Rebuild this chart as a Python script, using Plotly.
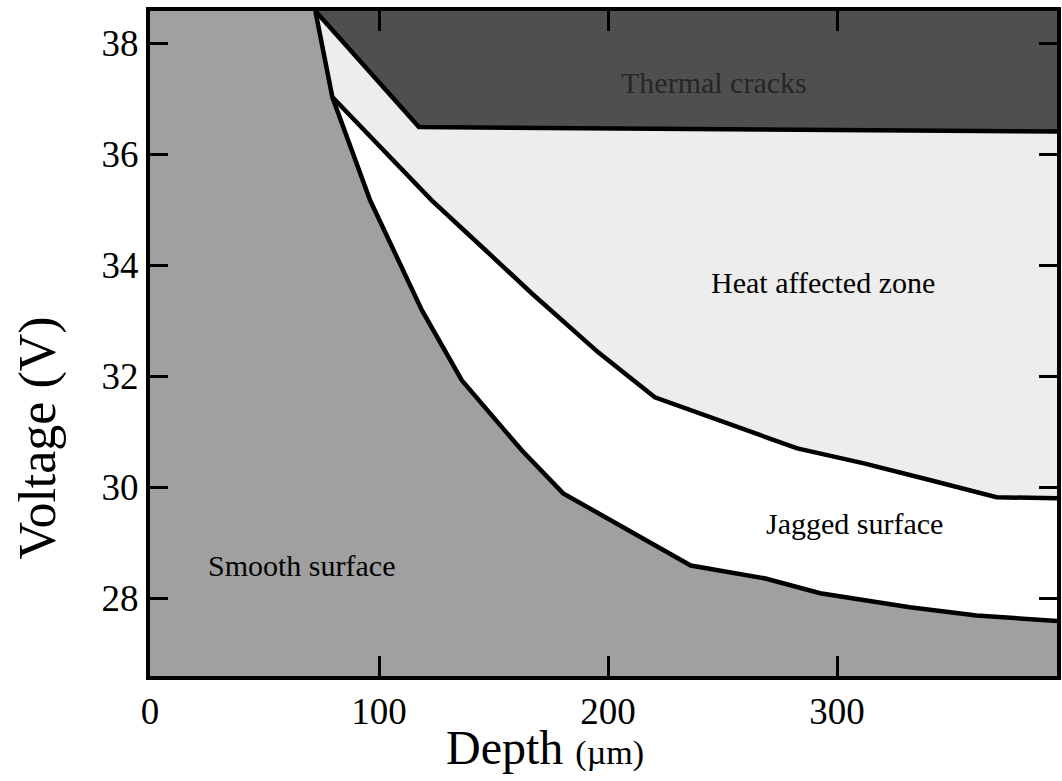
import plotly.graph_objects as go

# ---- data ----
X_RANGE = [0, 396]
Y_RANGE = [26.6, 38.58]

# boundary: smooth surface / jagged surface
smooth_x = [72.2, 79.6, 96.1, 118.7, 136.1, 162.2, 180.4, 236.1, 268.3, 292.6, 331.7, 360.9, 396]
smooth_y = [38.58, 37.03, 35.17, 33.19, 31.93, 30.67, 29.89, 28.59, 28.36, 28.09, 27.84, 27.69, 27.59]

# boundary: jagged surface / heat affected zone
haz_x = [79.6, 123.0, 146.5, 166.5, 195.7, 220.4, 282.6, 311.7, 340.4, 369.6, 396]
haz_y = [37.03, 35.17, 34.27, 33.50, 32.43, 31.62, 30.70, 30.43, 30.13, 29.82, 29.80]

# boundary: heat affected zone / thermal cracks
crack_x = [72.2, 117.4, 396]
crack_y = [38.58, 36.49, 36.41]

x_ticks = [0, 100, 200, 300]
y_ticks = [28, 30, 32, 34, 36, 38]

zone_labels = ["Thermal cracks", "Heat affected zone", "Jagged surface", "Smooth surface"]
zone_label_x = [246.1, 293.9, 307.4, 66.1]
zone_label_y = [37.30, 33.68, 29.35, 28.59]

# ---- styles ----
SMOOTH_COLOR = "#a0a0a0"
JAGGED_COLOR = "#ffffff"
HAZ_COLOR = "#ededed"
CRACK_COLOR = "#4f4f4f"
FONT = "Liberation Serif, Times New Roman, serif"

fig = go.Figure()

# jagged surface region (everything above the smooth boundary)
fig.add_trace(go.Scatter(
    x=smooth_x + [X_RANGE[1]], y=smooth_y + [Y_RANGE[1]],
    fill="toself", fillcolor=JAGGED_COLOR, mode="none", hoverinfo="skip", showlegend=False))

# heat affected zone (above the jagged boundary)
fig.add_trace(go.Scatter(
    x=[smooth_x[0]] + haz_x + [X_RANGE[1]], y=[smooth_y[0]] + haz_y + [Y_RANGE[1]],
    fill="toself", fillcolor=HAZ_COLOR, mode="none", hoverinfo="skip", showlegend=False))

# thermal cracks (above crack boundary)
fig.add_trace(go.Scatter(
    x=crack_x + [X_RANGE[1]], y=crack_y + [Y_RANGE[1]],
    fill="toself", fillcolor=CRACK_COLOR, mode="none", hoverinfo="skip", showlegend=False))

# boundary lines
for bx, by in [(smooth_x, smooth_y), (haz_x, haz_y), (crack_x, crack_y)]:
    fig.add_trace(go.Scatter(x=bx, y=by, mode="lines",
                             line=dict(color="black", width=4.5),
                             hoverinfo="skip", showlegend=False))

label_colors = ["#262626", "black", "black", "black"]
for t, lx, ly, c in zip(zone_labels, zone_label_x, zone_label_y, label_colors):
    fig.add_annotation(x=lx, y=ly, text=t, showarrow=False,
                       font=dict(family=FONT, size=30, color=c),
                       xanchor="center", yanchor="middle")

# axis titles
fig.add_annotation(xref="paper", yref="paper", x=0.436, y=-0.108,
                   text="Depth <span style='font-size:34px'>(µm)</span>",
                   showarrow=False, xanchor="center", yanchor="middle",
                   font=dict(family=FONT, size=48, color="black"))
fig.add_annotation(xref="paper", yref="paper", x=-0.124, y=0.358,
                   text="Voltage (V)", textangle=-90,
                   showarrow=False, xanchor="center", yanchor="middle",
                   font=dict(family=FONT, size=52, color="black"))

fig.update_xaxes(range=X_RANGE, tickvals=x_ticks, ticktext=[str(v) for v in x_ticks],
                 ticks="inside", ticklen=20, tickwidth=2.5, tickcolor="black",
                 showline=True, linewidth=4, linecolor="black", mirror="ticks",
                 showgrid=False, zeroline=False,
                 tickfont=dict(family=FONT, size=37, color="black"))
fig.update_yaxes(range=Y_RANGE, tickvals=y_ticks, ticktext=[str(v) for v in y_ticks],
                 ticks="inside", ticklen=18, tickwidth=3, tickcolor="black",
                 showline=True, linewidth=4, linecolor="black", mirror="ticks",
                 showgrid=False, zeroline=False,
                 tickfont=dict(family=FONT, size=37, color="black"))

fig.update_layout(width=1062, height=781,
                  margin=dict(l=150, r=1, t=11, b=105),
                  plot_bgcolor=SMOOTH_COLOR, paper_bgcolor="white",
                  showlegend=False)

fig.write_html("out.html")
